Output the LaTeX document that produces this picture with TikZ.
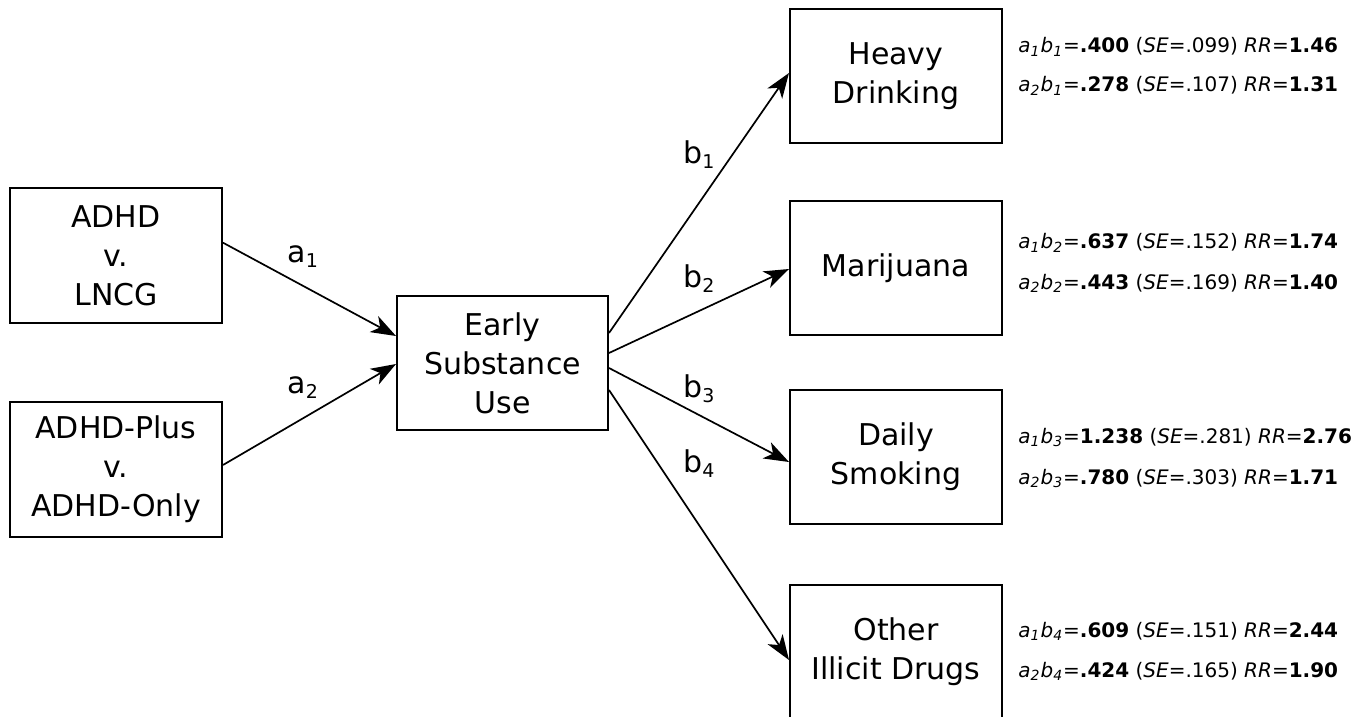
\documentclass[tikz,border=0pt]{standalone}
\usepackage{fontspec}
\setmainfont{DejaVu Sans}
\usetikzlibrary{arrows.meta}
\newcommand{\lsub}[1]{\raisebox{-2.5pt}{\fontsize{9.5pt}{9.5pt}\selectfont #1}}
\newcommand{\eff}[4]{\textit{a\textsubscript{#1}b\textsubscript{#2}}=\textbf{#3} (\textit{SE}=#4)}
\begin{document}
\begin{tikzpicture}[x=0.5pt,y=-0.5pt,
  box/.style={draw, line width=1pt, inner sep=0pt, align=center,
    minimum width=106pt, minimum height=67pt,
    font=\fontsize{15pt}{19.5pt}\selectfont},
  arr/.style={-{Stealth[length=12.5pt,width=9pt,inset=3.5pt]}, line width=0.85pt},
  lab/.style={anchor=base west, inner sep=0pt, font=\fontsize{15pt}{18pt}\selectfont},
  efflab/.style={anchor=base west, inner sep=0pt, font=\fontsize{10pt}{12pt}\selectfont}]
\useasboundingbox (0,0) rectangle (1371,717);

\node[box, minimum height=67.5pt] (adhd) at (116,255.5) {ADHD\\v.\\LNCG};
\node[box, minimum height=67.5pt] (plus) at (116,469.5) {ADHD-Plus\\v.\\ADHD-Only};
\node[box, minimum width=105.5pt] (early) at (502.5,363) {Early\\Substance\\Use};
\node[box] (heavy) at (896,76) {Heavy\\Drinking};
\node[box] (mari) at (896,268) {Marijuana};
\node[box] (daily) at (896,457) {Daily\\Smoking};
\node[box] (other) at (896,652) {Other\\Illicit Drugs};

\draw[arr] ([yshift=6.4pt]adhd.east) -- ([yshift=13.5pt]early.west);
\draw[arr] ([yshift=2.25pt]plus.east) -- ([yshift=-0.5pt]early.west);
\draw[arr] ([yshift=15pt]early.east) -- ([yshift=1.5pt]heavy.west);
\draw[arr] ([yshift=5pt]early.east) -- ([yshift=-0.5pt]mari.west);
\draw[arr] ([yshift=-2.5pt]early.east) -- ([yshift=-2.5pt]daily.west);
\draw[arr] ([yshift=-13.5pt]early.east) -- ([yshift=-4pt]other.west);

\node[lab] (la1) at (287,262) {a\lsub{1}};
\node[lab] (la2) at (287,393) {a\lsub{2}};
\node[lab] (lb1) at (683,163) {b\lsub{1}};
\node[lab] (lb2) at (683,287) {b\lsub{2}};
\node[lab] (lb3) at (683,397) {b\lsub{3}};
\node[lab] (lb4) at (683,472) {b\lsub{4}};

\node[efflab] (e11) at (1018,53) {\eff{1}{1}{.400}{.099} \textit{RR}=\textbf{1.46}};
\node[efflab] (e21) at (1018,92) {\eff{2}{1}{.278}{.107} \textit{RR}=\textbf{1.31}};
\node[efflab] (e12) at (1018,249) {\eff{1}{2}{.637}{.152} \textit{RR}=\textbf{1.74}};
\node[efflab] (e22) at (1018,289) {\eff{2}{2}{.443}{.169} \textit{RR}=\textbf{1.40}};
\node[efflab] (e13) at (1018,443) {\eff{1}{3}{1.238}{.281} \textit{RR}=\textbf{2.76}};
\node[efflab] (e23) at (1018,484) {\eff{2}{3}{.780}{.303} \textit{RR}=\textbf{1.71}};
\node[efflab] (e14) at (1018,637) {\eff{1}{4}{.609}{.151} \textit{RR}=\textbf{2.44}};
\node[efflab] (e24) at (1018,677) {\eff{2}{4}{.424}{.165} \textit{RR}=\textbf{1.90}};
\end{tikzpicture}
\end{document}
